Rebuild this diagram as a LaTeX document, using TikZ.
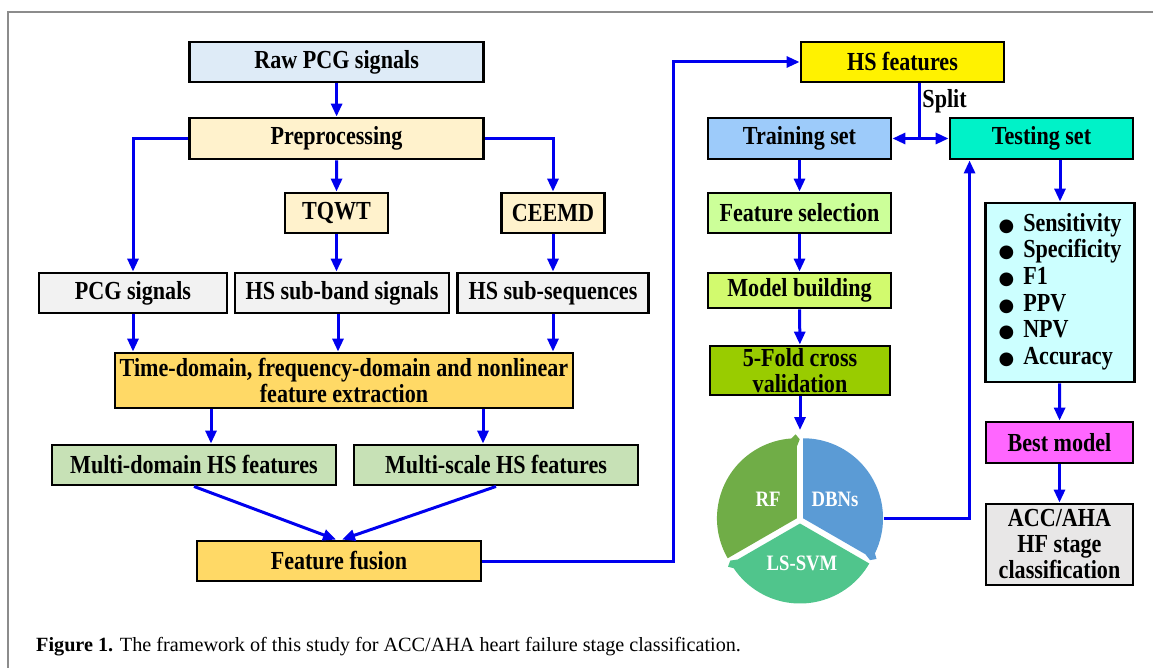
\documentclass[tikz,border=0pt]{standalone}
\usepackage{fontspec}
\setmainfont{Liberation Serif}
\newfontfamily\boxfont{Liberation Serif}[FakeStretch=0.85]
\newfontfamily\symfont{DejaVu Sans}
\usetikzlibrary{arrows.meta}
\definecolor{flowblue}{RGB}{0,0,238}
\definecolor{rawblue}{RGB}{222,235,247}
\definecolor{prepyellow}{RGB}{255,242,204}
\definecolor{sigrey}{RGB}{242,242,242}
\definecolor{extorange}{RGB}{255,217,102}
\definecolor{featgreen}{RGB}{199,225,182}
\definecolor{trainblue}{RGB}{157,203,250}
\definecolor{testteal}{RGB}{0,242,200}
\definecolor{selgreen}{RGB}{204,255,153}
\definecolor{buildgreen}{RGB}{210,250,110}
\definecolor{cvgreen}{RGB}{153,204,0}
\definecolor{metcyan}{RGB}{204,255,255}
\definecolor{bestpink}{RGB}{255,102,255}
\definecolor{accgrey}{RGB}{232,231,231}
\definecolor{rfgreen}{RGB}{112,173,71}
\definecolor{dbnblue}{RGB}{91,155,213}
\definecolor{svmgreen}{RGB}{80,197,140}
\definecolor{framegrey}{RGB}{140,140,140}
\newcommand{\bul}{{\symfont\fontsize{18}{18}\selectfont ●}}
\tikzset{
  box/.style={draw, line width=2.9pt, inner sep=0pt, align=center,
    font=\boxfont\bfseries\fontsize{26}{26}\selectfont},
  flow/.style={draw=flowblue, line width=3pt, -{Triangle[length=13pt,width=11pt]}},
  flowline/.style={draw=flowblue, line width=3pt},
  segtext/.style={text=white, font=\boxfont\bfseries\fontsize{22}{24}\selectfont}
}

\begin{document}
\begin{tikzpicture}[x=1pt, y=-1pt]
  \useasboundingbox (0,0) rectangle (1153,668);
  \draw[framegrey, line width=1.5pt] (1153,12) -- (8,12) -- (8,668);

  % left column
  \node[box, fill=rawblue, minimum width=294pt, minimum height=40pt] (raw) at (336.6,62) {Raw PCG signals};
  \node[box, fill=prepyellow, minimum width=294pt, minimum height=41pt] (prep) at (336.6,138.5) {Preprocessing};
  \node[box, fill=prepyellow, minimum width=103pt, minimum height=40pt] (tqwt) at (336.5,213) {TQWT};
  \node[box, fill=prepyellow, minimum width=103pt, minimum height=40pt] (ceemd) at (553,213) {CEEMD};
  \node[box, fill=sigrey, minimum width=188pt, minimum height=40pt] (pcg) at (133,293) {PCG signals};
  \node[box, fill=sigrey, minimum width=214pt, minimum height=40pt] (subband) at (342,293) {HS sub-band signals};
  \node[box, fill=sigrey, minimum width=191pt, minimum height=40pt] (subseq) at (553,293) {HS sub-sequences};
  \node[box, fill=extorange, minimum width=458pt, minimum height=55pt] (extract) at (344,380.5)
    {Time-domain, frequency-domain and nonlinear\\feature extraction};
  \node[box, fill=featgreen, minimum width=284pt, minimum height=40pt] (mdom) at (194,465) {Multi-domain HS features};
  \node[box, fill=featgreen, minimum width=284pt, minimum height=40pt] (mscale) at (496,465) {Multi-scale HS features};
  \node[box, fill=extorange, minimum width=284pt, minimum height=40pt] (fusion) at (339,561) {Feature fusion};

  % middle column
  \node[box, fill=yellow, minimum width=203pt, minimum height=40pt] (hsf) at (902.5,62) {HS features};
  \node[box, fill=trainblue, minimum width=183pt, minimum height=41pt] (train) at (799.5,138.5) {Training set};
  \node[box, fill=selgreen, minimum width=183pt, minimum height=40pt] (fsel) at (799.5,213) {Feature selection};
  \node[box, fill=buildgreen, minimum width=183pt, minimum height=35pt] (mbuild) at (799.5,290.5) {Model building};
  \node[box, fill=cvgreen, minimum width=180pt, minimum height=49pt] (cv) at (800,370.5) {5-Fold cross\\validation};
  \node[box, anchor=west, draw=none] (split) at (921,101) {Split};
  \coordinate (splitpt) at (919,138.5);

  % right column
  \node[box, fill=testteal, minimum width=183pt, minimum height=41pt] (test) at (1041.5,138.5) {Testing set};
  \node[box, fill=metcyan, minimum width=149pt, minimum height=179pt,
    font=\boxfont\bfseries\fontsize{26}{26.7}\selectfont] (metrics) at (1060,292.5)
    {\raisebox{-4pt}{\begin{tabular}{@{}c@{\hspace{9pt}}l@{}}
      \bul & Sensitivity\\ \bul & Specificity\\ \bul & F1\\
      \bul & PPV\\ \bul & NPV\\ \bul & Accuracy
    \end{tabular}}};
  \node[box, fill=bestpink, minimum width=147pt, minimum height=41pt] (best) at (1059.5,442.5) {Best model};
  \node[box, fill=accgrey, minimum width=147pt, minimum height=81pt] (acc) at (1059.5,544.5)
    {ACC/AHA\\HF stage\\classification};

  % classifier wheel
  \begin{scope}[shift={(800,520)}, yscale=-1]
    \fill[rfgreen, shift={(150:3.5)}] (0,0) -- (210:80) arc[start angle=210, end angle=94, radius=80]
      -- (91:84) -- (88:79) -- (90:72) -- cycle;
    \fill[dbnblue, shift={(30:3.5)}] (0,0) -- (90:80) arc[start angle=90, end angle=-26, radius=80]
      -- (-29:84) -- (-32:79) -- (-30:72) -- cycle;
    \fill[svmgreen, shift={(270:3.5)}] (0,0) -- (-30:80) arc[start angle=-30, end angle=-146, radius=80]
      -- (-149:84) -- (-152:79) -- (-150:72) -- cycle;
  \end{scope}
  \node[segtext] (rf) at (768,499) {RF};
  \node[segtext] (dbn) at (835,499) {DBNs};
  \node[segtext] (lssvm) at (802,563) {LS-SVM};
  \coordinate (wheeltop) at (800,430);
  \coordinate (dbnout) at (884,518);

  % connectors
  \draw[flow] (raw) -- (prep);
  \draw[flow] (prep) -- (tqwt);
  \draw[flow] (prep.west) -| (pcg.north);
  \draw[flow] (prep.east) -| (ceemd.north);
  \draw[flow] (tqwt) -- (tqwt.south |- subband.north);
  \draw[flow] (ceemd) -- (subseq);
  \draw[flow] (pcg) -- (pcg.south |- extract.north);
  \draw[flow] ([xshift=-4pt]subband.south) -- ([xshift=-4pt]subband.south |- extract.north);
  \draw[flow] (subseq) -- (subseq.south |- extract.north);
  \draw[flow] ([xshift=17pt]mdom.north |- extract.south) -- ([xshift=17pt]mdom.north);
  \draw[flow] ([xshift=-13pt]mscale.north |- extract.south) -- ([xshift=-13pt]mscale.north);
  \draw[flow] (mdom.south) -- ([xshift=-3pt]fusion.north);
  \draw[flow] (mscale.south) -- ([xshift=3pt]fusion.north);
  \draw[flow] (fusion.east) -- ++(191,0) |- (hsf.west);
  \draw[flowline] ([xshift=16.5pt]hsf.south) -- (splitpt);
  \draw[flow] (splitpt) -- (train.east);
  \draw[flow] (splitpt) -- (test.west);
  \draw[flow] (train) -- (fsel);
  \draw[flow] (fsel) -- (mbuild);
  \draw[flow] (mbuild) -- (cv);
  \draw[flow] (cv) -- (wheeltop);
  \draw[flow] (dbnout) -| ([xshift=21pt]test.south west);
  \draw[flow] (metrics.north |- test.south) -- (metrics.north);
  \draw[flow] (metrics) -- (best);
  \draw[flow] (best) -- (acc);

  % caption
  \node[anchor=base west, inner sep=0pt, font=\fontsize{20.2}{23}\selectfont] (caption) at (36,651)
    {\textbf{Figure 1.} The framework of this study for ACC/AHA heart failure stage classification.};
\end{tikzpicture}
\end{document}
